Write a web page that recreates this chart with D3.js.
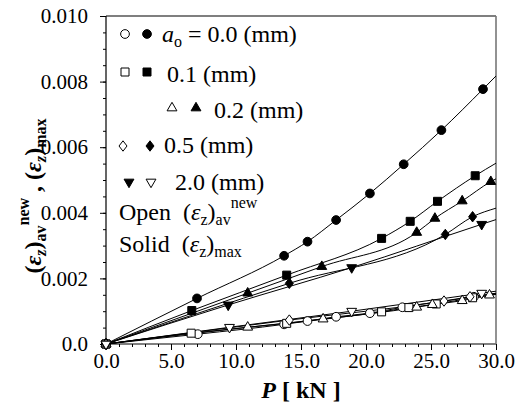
<!DOCTYPE html>
<html>
<head>
<meta charset="utf-8">
<script src="https://cdn.jsdelivr.net/npm/d3@7"></script>
<style>
  body { margin: 0; background: #fff; }
</style>
</head>
<body>
<div class="chart"></div>
<script>
// load P (kN) against strain, max (solid) and averaged (open) values
var pMax00 = [0, 7.0, 13.7, 15.5, 17.7, 20.3, 22.9, 25.8, 29.0];
var eMax00 = [0, 0.00139, 0.00269, 0.00312, 0.00378, 0.00459, 0.00548, 0.00652, 0.00777];
var pMax01 = [0, 6.6, 13.9, 21.2, 23.4, 25.5, 28.4];
var eMax01 = [0, 0.00102, 0.00210, 0.00322, 0.00374, 0.00435, 0.00513];
var pMax02 = [0, 10.9, 16.6, 23.9, 25.3, 27.4, 29.6];
var eMax02 = [0, 0.00155, 0.00236, 0.00340, 0.00383, 0.00436, 0.00495];
var pMax05 = [0, 14.1, 26.1, 28.2];
var eMax05 = [0, 0.00185, 0.00334, 0.00388];
var pMax20 = [0, 9.4, 18.9, 28.9];
var eMax20 = [0, 0.00119, 0.00233, 0.00365];

var pAv00 = [0, 7.06, 13.7, 15.5, 17.7, 20.3, 22.8, 28.3];
var eAv00 = [0, 0.00030, 0.00060, 0.00070, 0.00083, 0.00094, 0.00112, 0.00144];
var pAv01 = [0, 6.55, 13.9, 21.2, 23.3, 25.4, 28.2];
var eAv01 = [0, 0.00033, 0.00063, 0.00098, 0.00111, 0.00122, 0.00141];
var pAv02 = [0, 10.9, 16.7, 23.9, 25.1, 27.4, 29.5];
var eAv02 = [0, 0.00051, 0.00076, 0.00112, 0.00120, 0.00132, 0.00149];
var pAv05 = [0, 14.1, 26.0, 28.0];
var eAv05 = [0, 0.00073, 0.00131, 0.00144];
var pAv20 = [0, 9.5, 18.9, 28.9];
var eAv20 = [0, 0.00051, 0.00100, 0.00155];

var xTicks = [0, 5, 10, 15, 20, 25, 30];
var yTicks = [0, 0.002, 0.004, 0.006, 0.008, 0.010];
var yTickLabels = ["0.0", "0.002", "0.004", "0.006", "0.008", "0.010"];

var series = [
    { a: "0.0", shape: "circle", solid: [pMax00, eMax00], open: [pAv00, eAv00] },
    { a: "0.1", shape: "square", solid: [pMax01, eMax01], open: [pAv01, eAv01] },
    { a: "0.2", shape: "up", solid: [pMax02, eMax02], open: [pAv02, eAv02] },
    { a: "0.5", shape: "diamond", solid: [pMax05, eMax05], open: [pAv05, eAv05] },
    { a: "2.0", shape: "down", solid: [pMax20, eMax20], open: [pAv20, eAv20] }
];

var serif = "'Liberation Serif', 'Times New Roman', serif";

var svgWidth = 518;
var svgHeight = 407;
var margin = { top: 16, right: 22, bottom: 63, left: 106 };
var width = svgWidth - margin.left - margin.right;
var height = svgHeight - margin.top - margin.bottom;

var svg = d3.select(".chart")
    .append("svg")
    .attr("width", svgWidth)
    .attr("height", svgHeight)
    .style("font-family", serif);

var chart = svg.append("g")
    .attr("transform", `translate(${margin.left},${margin.top})`);

var xScale = d3.scaleLinear().domain([0, 30]).range([0, width]);
var yScale = d3.scaleLinear().domain([0, 0.010]).range([height, 0]);

// marker shapes
function shapePath(shape) {
    if (shape == "circle") return d3.symbol(d3.symbolCircle, 60)();
    if (shape == "square") return d3.symbol(d3.symbolSquare, 64)();
    if (shape == "up" || shape == "down") return d3.symbol(d3.symbolTriangle, 42)();
    // diamond
    var w = 4, h = 5.2;
    return `M0,${-h}L${w},0L0,${h}L${-w},0Z`;
}
function drawMarker(g, shape, x, y, open) {
    g.append("path")
        .attr("d", shapePath(shape))
        .attr("transform", `translate(${x},${y})` + (shape == "down" ? " rotate(180)" : ""))
        .attr("fill", open ? "#fff" : "#000")
        .attr("stroke", "#000")
        .attr("stroke-width", 1);
}

// line through the points, carried on to 30 kN with a fitted y = a*x + b*x^2
function curvePoints(px, ey) {
    var s2 = 0, s3 = 0, s4 = 0, sxy = 0, sx2y = 0;
    px.forEach(function (x, i) {
        var y = ey[i];
        s2 += x * x; s3 += x * x * x; s4 += x * x * x * x;
        sxy += x * y; sx2y += x * x * y;
    });
    var det = s2 * s4 - s3 * s3;
    var a = (sxy * s4 - s3 * sx2y) / det;
    var b = (s2 * sx2y - s3 * sxy) / det;
    var fit = function (x) { return a * x + b * x * x; };
    var pts = px.map(function (x, i) { return [x, ey[i]]; });
    var last = pts[pts.length - 1];
    pts.push([30, last[1] + fit(30) - fit(last[0])]);
    return pts;
}

var line = d3.line()
    .curve(d3.curveMonotoneX)
    .x(function (d) { return xScale(d[0]); })
    .y(function (d) { return yScale(d[1]); });

// axes: minor then major
chart.append("g")
    .attr("transform", `translate(0,${height})`)
    .call(d3.axisBottom(xScale).tickValues(d3.range(0, 31, 1)).tickSize(3).tickFormat(""))
    .call(function (g) { g.select(".domain").remove(); });
var xAxis = chart.append("g")
    .attr("class", "x-axis")
    .attr("transform", `translate(0,${height})`)
    .call(d3.axisBottom(xScale).tickValues(xTicks).tickSize(6).tickPadding(3).tickFormat(d3.format(".1f")));
xAxis.select(".domain").remove();
xAxis.attr("font-family", null);
xAxis.selectAll("text").attr("font-size", "21px").attr("fill", "#000").style("font-family", serif);

chart.append("g")
    .call(d3.axisLeft(yScale).tickValues(d3.range(0, 0.01001, 0.0005)).tickSize(3).tickFormat(""))
    .call(function (g) { g.select(".domain").remove(); });
var yAxis = chart.append("g")
    .attr("class", "y-axis")
    .call(d3.axisLeft(yScale).tickValues(yTicks).tickSize(6).tickPadding(12)
        .tickFormat(function (d, i) { return yTickLabels[i]; }));
yAxis.select(".domain").remove();
yAxis.attr("font-family", null);
yAxis.selectAll("text").attr("font-size", "21px").attr("fill", "#000").style("font-family", serif);

// frame
chart.append("path")
    .attr("d", `M0,0H${width}M0,0V${height}H${width}`)
    .attr("fill", "none").attr("stroke", "#000").attr("stroke-width", 1.2);
chart.append("line")
    .attr("x1", width).attr("x2", width).attr("y1", 0).attr("y2", height)
    .attr("stroke", "#777").attr("stroke-width", 1.6);

// lines
series.forEach(function (s) {
    [s.solid, s.open].forEach(function (d) {
        chart.append("path")
            .datum(curvePoints(d[0], d[1]))
            .attr("d", line)
            .attr("fill", "none")
            .attr("stroke", "#000")
            .attr("stroke-width", 1);
    });
});

// markers
series.forEach(function (s) {
    [[s.solid, false], [s.open, true]].forEach(function (pair) {
        var d = pair[0];
        d[0].forEach(function (p, i) {
            drawMarker(chart, s.shape, xScale(p), yScale(d[1][i]), pair[1]);
        });
    });
});

// rich text helper
function rich(text, parts) {
    var cur = 0;
    parts.forEach(function (p) {
        var off = p.off || 0;
        var ts = text.append("tspan").text(p.t).attr("dy", off - cur);
        cur = off;
        if (p.it) ts.attr("font-style", "italic");
        if (p.fs) ts.attr("font-size", p.fs);
    });
}

// legend
var legend = svg.append("g").attr("font-size", "24px");
var legRows = [
    { y: 34, base: 42, open: 125, solid: 147, tx: 162 },
    { y: 72, base: 82, open: 125, solid: 147, tx: 167 },
    { y: 108, base: 118, open: 172, solid: 196, tx: 214 },
    { y: 146, base: 153, open: 123, solid: 150, tx: 164 },
    { y: 182, base: 190, open: 151, solid: 129, tx: 175 }
];
series.forEach(function (s, i) {
    var r = legRows[i];
    drawMarker(legend, s.shape, r.open, r.y, true);
    drawMarker(legend, s.shape, r.solid, r.y, false);
    var t = legend.append("text").attr("x", r.tx).attr("y", r.base).style("white-space", "pre");
    if (i == 0) {
        rich(t, [{ t: "a", it: true }, { t: "o", fs: "16px", off: 5 }, { t: " = " + s.a + " (mm)" }]);
    } else {
        t.text(s.a + " (mm)");
    }
});
var openText = legend.append("text").attr("x", 119).attr("y", 220).style("white-space", "pre");
rich(openText, [{ t: "Open  (" }, { t: "ε", it: true }, { t: "z", fs: "16px", off: 5 },
    { t: ")" }, { t: "av", fs: "16px", off: 5 }, { t: "new", fs: "16px", off: -12 }]);
var solidText = legend.append("text").attr("x", 119).attr("y", 252).style("white-space", "pre");
rich(solidText, [{ t: "Solid  (" }, { t: "ε", it: true }, { t: "z", fs: "16px", off: 5 },
    { t: ")" }, { t: "max", fs: "16px", off: 5 }]);

// axis titles
var xLabel = svg.append("text")
    .attr("x", margin.left + width / 2)
    .attr("y", 398)
    .attr("text-anchor", "middle")
    .attr("font-size", "24px")
    .attr("font-weight", "bold")
    .style("white-space", "pre");
rich(xLabel, [{ t: "P", it: true }, { t: " [ kN ]" }]);

var yLabel = svg.append("text")
    .attr("transform", "translate(41,196) rotate(-90)")
    .attr("text-anchor", "middle")
    .attr("font-size", "24px")
    .attr("font-weight", "bold")
    .style("white-space", "pre");
rich(yLabel, [{ t: "(" }, { t: "ε", it: true }, { t: "z", it: true, fs: "16px", off: 5 },
    { t: ")" }, { t: "av", fs: "16px", off: 5 }, { t: "new", fs: "16px", off: -12 },
    { t: " , (" }, { t: "ε", it: true }, { t: "z", it: true, fs: "16px", off: 5 },
    { t: ")" }, { t: "max", fs: "16px", off: 5 }]);
</script>
</body>
</html>
